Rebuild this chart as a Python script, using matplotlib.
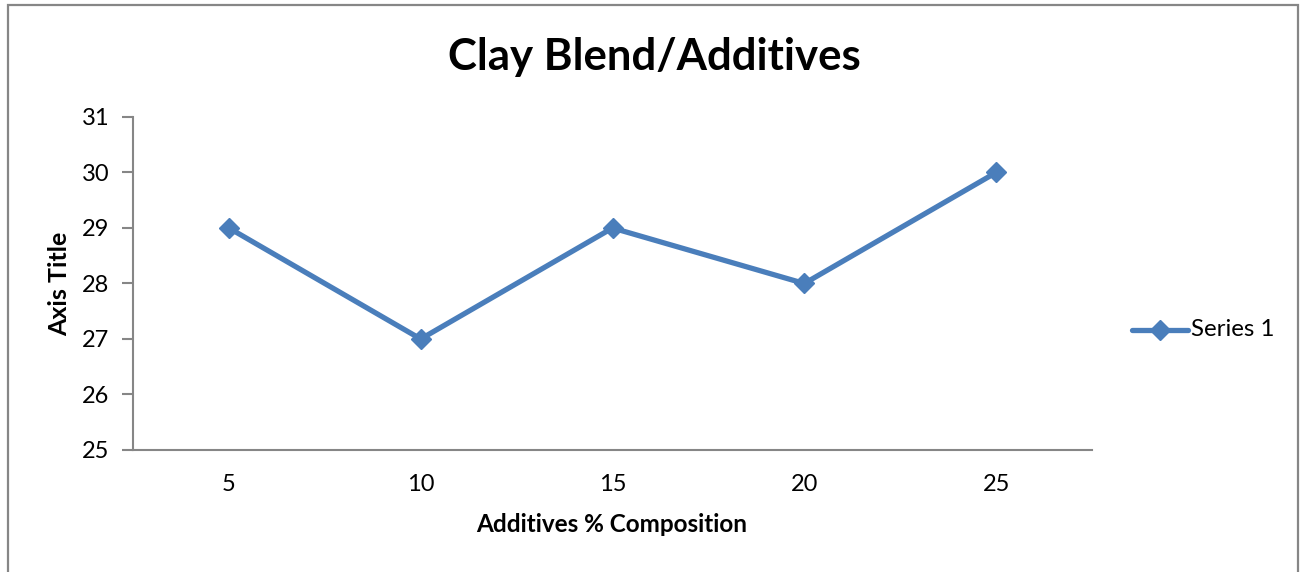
import matplotlib
matplotlib.use("Agg")
import matplotlib.pyplot as plt
from matplotlib.lines import Line2D
from matplotlib.patches import Rectangle

plt.rcParams['font.family'] = ['Lato', 'DejaVu Sans']

categories = ["5", "10", "15", "20", "25"]
values = [29, 27, 29, 28, 30]
y_ticks = [25, 26, 27, 28, 29, 30, 31]

title = "Clay Blend/Additives"
x_label = "Additives % Composition"
y_label = "Axis Title"
series_name = "Series 1"

W, H = 1302, 572
fig = plt.figure(figsize=(W / 100, H / 100), dpi=100)

# chart border (bottom edge runs past the image)
fig.patches.append(Rectangle((8 / W, -0.05), (1298 - 8) / W, (H - 5) / H + 0.05,
                             transform=fig.transFigure, fill=False,
                             edgecolor="#868686", linewidth=1.6))

ax = fig.add_axes([133 / W, (H - 450) / H, (1092 - 133) / W, (450 - 117) / H])
blue = "#4A7EBB"
xs = [i + 0.5 for i in range(len(categories))]
ax.plot(xs, values, color=blue, linewidth=3.8, marker="D", markersize=10,
        markerfacecolor=blue, markeredgecolor=blue, solid_joinstyle="round")

ax.set_xlim(0, len(categories))
ax.set_ylim(y_ticks[0], y_ticks[-1])
ax.set_yticks(y_ticks)
ax.set_xticks(xs)
ax.set_xticklabels(categories)
for s in ("top", "right"):
    ax.spines[s].set_visible(False)
for s in ("left", "bottom"):
    ax.spines[s].set_color("#868686")
    ax.spines[s].set_linewidth(1.5)
ax.tick_params(axis="y", length=8, width=1.5, color="#868686", labelsize=17, pad=9)
ax.tick_params(axis="x", length=0, labelsize=17, pad=17)

fig.text(654 / W, 1 - 57 / H, title, ha="center", va="center",
         fontsize=31.5, fontweight="bold")
fig.text(612 / W, 1 - 524 / H, x_label, ha="center", va="center",
         fontsize=17.5, fontweight="bold")
fig.text(60 / W, 1 - 284 / H, y_label, ha="center", va="center",
         fontsize=18, fontweight="bold", rotation=90)

# legend entry
yl = 1 - 330 / H
fig.add_artist(Line2D([1132 / W, 1188 / W], [yl, yl], transform=fig.transFigure,
                      color=blue, linewidth=3.8, solid_capstyle="round"))
fig.add_artist(Line2D([1160 / W], [yl], transform=fig.transFigure, marker="D",
                      markersize=10, color=blue, linestyle="none"))
fig.text(1191 / W, yl, series_name, ha="left", va="center", fontsize=17.3)

fig.savefig("out.png", dpi=100)
